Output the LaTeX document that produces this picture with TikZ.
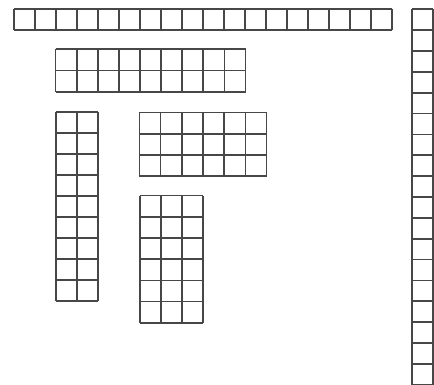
\documentclass[tikz,border=0pt]{standalone}
\tikzset{cellline/.style={draw=black!72, line width=1.7pt, line cap=square}}
\newcommand\cellgrid[6]{%
  \foreach \i in {0,...,#3} {\draw[cellline] ({#1+\i*#5},#2) -- ({#1+\i*#5},{#2+#4*#6});}
  \foreach \j in {0,...,#4} {\draw[cellline] (#1,{#2+\j*#6}) -- ({#1+#3*#5},{#2+\j*#6});}
}
\begin{document}
\begin{tikzpicture}[x=1pt,y=-1pt]
\useasboundingbox[fill=white] (0,0) rectangle (434,385);
% top row 18 x 1
\cellgrid{14}{9.3}{18}{1}{21}{21}
% 9 x 2
\cellgrid{55.6}{49.3}{9}{2}{21.1}{21.2}
% left column 2 x 9
\cellgrid{55.7}{112.3}{2}{9}{21.2}{21}
% 6 x 3
\cellgrid{139.4}{112.6}{6}{3}{21.2}{21.1}
% 3 x 6
\cellgrid{140}{195.6}{3}{6}{21.1}{21.2}
% right column 1 x 18
\cellgrid{412.3}{9.3}{1}{18}{21}{20.85}
\end{tikzpicture}
\end{document}
